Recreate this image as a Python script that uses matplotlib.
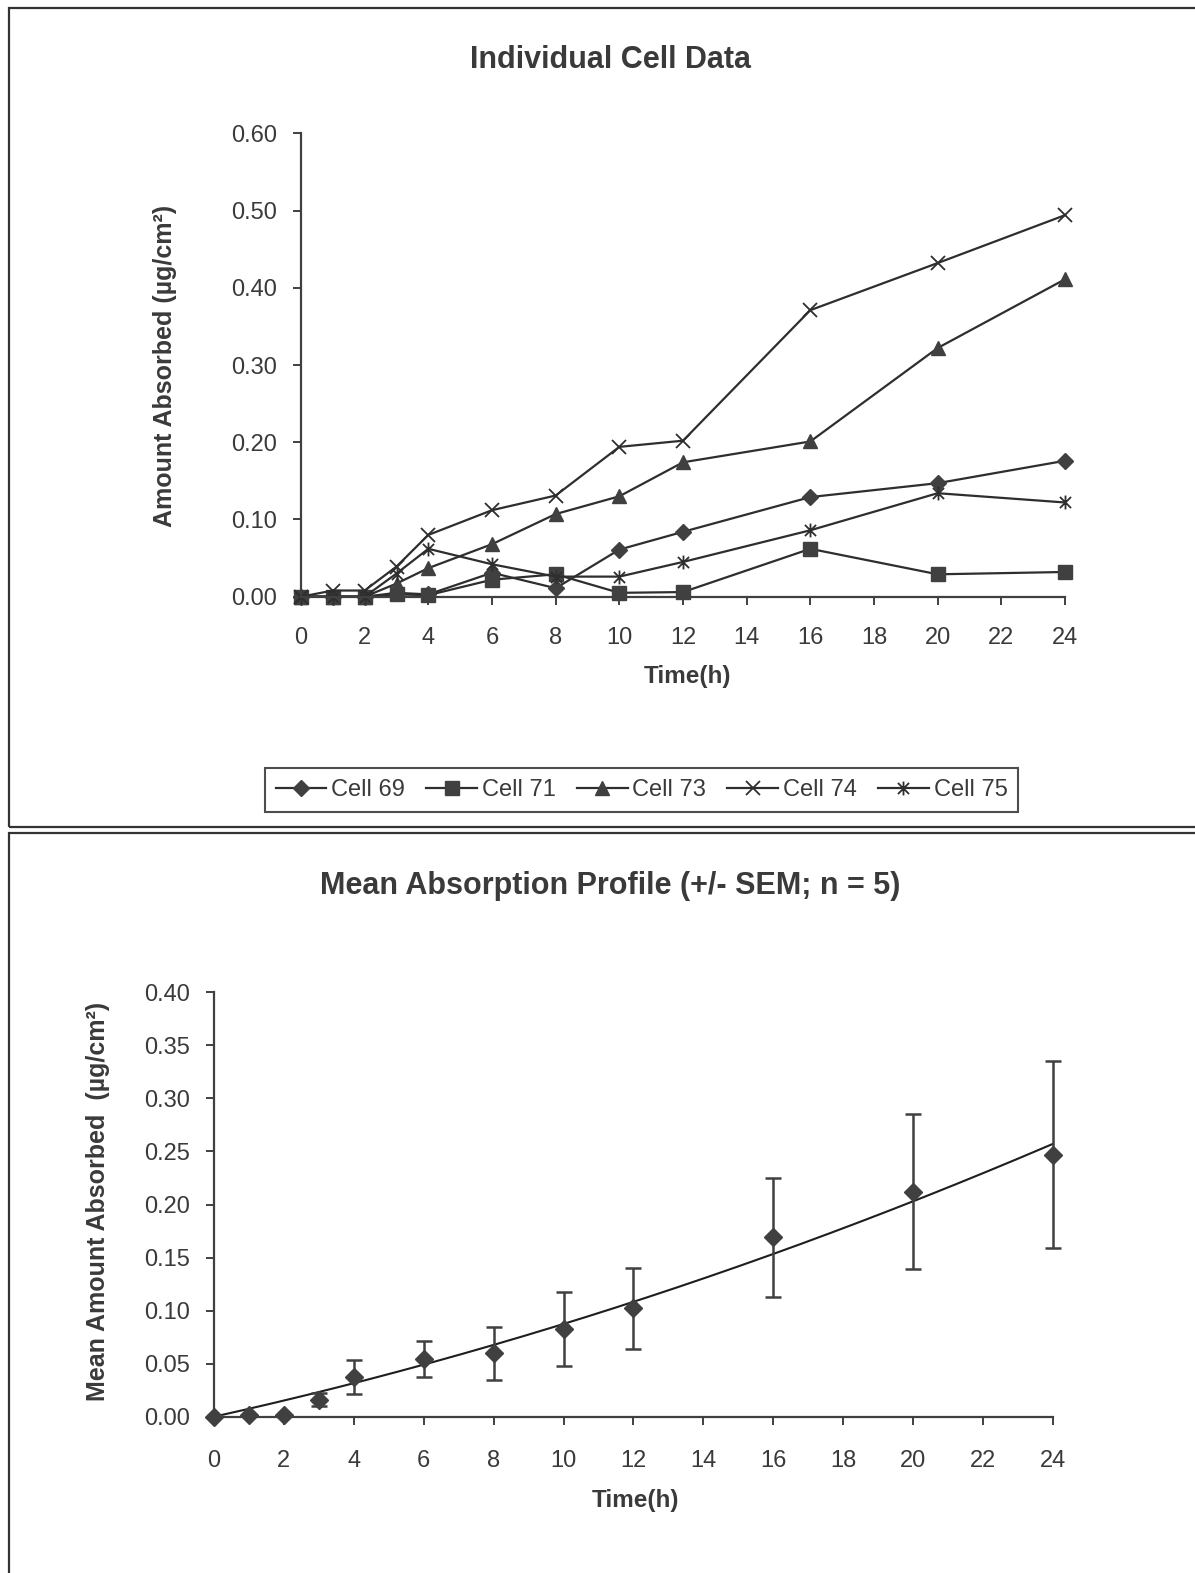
import numpy as np
import matplotlib
matplotlib.use("Agg")
import matplotlib.pyplot as plt
from matplotlib.patches import Rectangle
from matplotlib.path import Path

# ---------------- data ----------------
time_h = [0, 1, 2, 3, 4, 6, 8, 10, 12, 16, 20, 24]
cell69 = [0, 0, 0, 0.005, 0.003, 0.031, 0.011, 0.061, 0.084, 0.129, 0.147, 0.176]
cell71 = [0, 0, 0, 0.003, 0.002, 0.022, 0.029, 0.005, 0.006, 0.062, 0.029, 0.032]
cell73 = [0, 0, 0, 0.017, 0.037, 0.068, 0.107, 0.130, 0.174, 0.201, 0.322, 0.411]
cell74 = [0, 0.008, 0.008, 0.039, 0.080, 0.112, 0.131, 0.194, 0.202, 0.371, 0.432, 0.494]
cell75 = [0, 0, 0, 0.030, 0.062, 0.042, 0.026, 0.026, 0.045, 0.086, 0.134, 0.122]
series_names = ["Cell 69", "Cell 71", "Cell 73", "Cell 74", "Cell 75"]

mean_abs = [0, 0.002, 0.002, 0.016, 0.037, 0.054, 0.060, 0.083, 0.102, 0.169, 0.212, 0.247]
sem_abs = [0, 0, 0, 0.006, 0.016, 0.017, 0.025, 0.035, 0.038, 0.056, 0.073, 0.088]

x_ticks = list(range(0, 25, 2))
y_ticks_top = [0, 0.1, 0.2, 0.3, 0.4, 0.5, 0.6]
y_ticks_bot = [0, 0.05, 0.1, 0.15, 0.2, 0.25, 0.3, 0.35, 0.4]

# ---------------- style ----------------
W, H = 1195, 1573
plt.rcParams['font.family'] = ['Liberation Sans', 'DejaVu Sans']
TXT = '#3a3a3a'
LINE = '#2e2e2e'
MK = '#404040'

fig = plt.figure(figsize=(W / 100, H / 100), dpi=100)
fig.patch.set_facecolor('white')

def fx(px):
    return px / W

def fy(py):
    return 1 - py / H

# panel borders
fig.add_artist(Rectangle((fx(9), fy(827)), fx(1300), (827 - 8) / H,
                         transform=fig.transFigure, fill=False, lw=1.6, ec='#333333'))
fig.add_artist(Rectangle((fx(9), fy(1700)), fx(1300), (1700 - 833) / H,
                         transform=fig.transFigure, fill=False, lw=1.6, ec='#333333'))

star_path = Path([(-1, -1), (1, 1), (-1, 1), (1, -1), (0, -1.25), (0, 1.25)],
                 [Path.MOVETO, Path.LINETO, Path.MOVETO, Path.LINETO, Path.MOVETO, Path.LINETO])

def style_axes(ax, ylim, yticks, xpad):
    ax.set_xlim(0, 24)
    ax.set_ylim(*ylim)
    ax.set_xticks(x_ticks)
    ax.set_yticks(yticks)
    ax.set_yticklabels([f"{v:.2f}" for v in yticks])
    for s in ['top', 'right']:
        ax.spines[s].set_visible(False)
    for s in ['left', 'bottom']:
        ax.spines[s].set_color('#404040')
        ax.spines[s].set_linewidth(1.6)
    ax.tick_params(axis='both', direction='out', length=5.5, width=1.4,
                   colors='#404040', labelcolor=TXT, labelsize=17)
    ax.tick_params(axis='x', pad=xpad)
    ax.tick_params(axis='y', pad=12)
    ax.patch.set_alpha(0)

# ---------------- top panel ----------------
ax1 = fig.add_axes([fx(301), fy(596.7), fx(1065) - fx(301), (596.7 - 133.3) / H])
style_axes(ax1, (0, 0.6), y_ticks_top, 16.5)
marker_specs = [
    dict(marker='D', ms=8.5, mfc=MK, mec=MK),
    dict(marker='s', ms=10, mfc=MK, mec=MK),
    dict(marker='^', ms=10.5, mfc=MK, mec=MK),
    dict(marker='x', ms=10, mec=LINE, mew=1.3),
    dict(marker=star_path, ms=10, mec=LINE, mew=1.3),
]
for vals, name, spec in zip([cell69, cell71, cell73, cell74, cell75], series_names, marker_specs):
    ax1.plot(time_h, vals, color=LINE, lw=1.6, label=name, clip_on=False, **spec)

fig.text(fx(610), fy(60), "Individual Cell Data", ha='center', va='center',
         fontsize=22, fontweight='bold', color=TXT)
fig.text(fx(165), fy(366), "Amount Absorbed (µg/cm²)", ha='center', va='center',
         rotation=90, fontsize=18, fontweight='bold', color=TXT)
fig.text(fx(687), fy(677), "Time(h)", ha='center', va='center',
         fontsize=17.5, fontweight='bold', color=TXT)

leg = fig.legend(loc='center', bbox_to_anchor=(fx(641.5), fy(790)), ncol=5,
                 fontsize=17, frameon=True, fancybox=False, handlelength=2.15,
                 handletextpad=0.2, columnspacing=0.9, borderpad=0.45,
                 labelcolor=TXT)
leg.get_frame().set_edgecolor('#222222')
leg.get_frame().set_linewidth(1.5)

# ---------------- bottom panel ----------------
ax2 = fig.add_axes([fx(214), fy(1416.7), fx(1053) - fx(214), (1416.7 - 992.3) / H])
style_axes(ax2, (0, 0.4), y_ticks_bot, 18.5)

t = np.asarray(time_h, dtype=float)
m = np.asarray(mean_abs, dtype=float)
A = np.column_stack([t, t ** 2])
coef, *_ = np.linalg.lstsq(A, m, rcond=None)
tt = np.linspace(0, 24, 300)
ax2.plot(tt, coef[0] * tt + coef[1] * tt ** 2, color='#1e1e1e', lw=1.5, clip_on=False, zorder=3)

ax2.errorbar(time_h, mean_abs, yerr=sem_abs, fmt='D', ms=9, mfc=MK, mec=MK,
             ecolor='#404040', elinewidth=1.8, capsize=5.5, capthick=1.8,
             clip_on=False, zorder=4)

fig.text(fx(610), fy(886), "Mean Absorption Profile (+/- SEM; n = 5)", ha='center', va='center',
         fontsize=22, fontweight='bold', color=TXT)
fig.text(fx(98), fy(1201), "Mean Amount Absorbed  (µg/cm²)", ha='center', va='center',
         rotation=90, fontsize=18, fontweight='bold', color=TXT)
fig.text(fx(635), fy(1501), "Time(h)", ha='center', va='center',
         fontsize=17.5, fontweight='bold', color=TXT)

fig.savefig("out.png", dpi=100, facecolor='white')
